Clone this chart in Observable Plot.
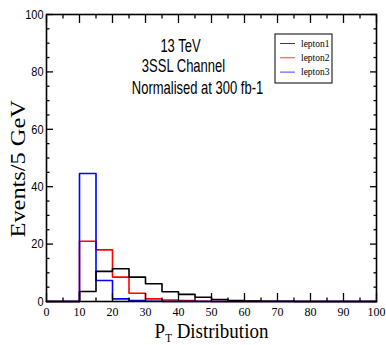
<!DOCTYPE html>
<html>
<head>
<meta charset="utf-8">
<script src="https://cdn.jsdelivr.net/npm/d3@7"></script>
<script src="https://cdn.jsdelivr.net/npm/@observablehq/plot@0.6"></script>
<style>
  html, body { margin: 0; padding: 0; background: #fff; }
</style>
</head>
<body>
<div id="chart"></div>
<script>
// ---- data ----
const binStarts = [0, 5, 10, 15, 20, 25, 30, 35, 40, 45, 50, 55, 60, 65, 70, 75, 80, 85, 90, 95];
const binEnd = 100;
const seriesNames = ["lepton1", "lepton2", "lepton3"];
const lepton1 = [0, 0, 3.5, 10.5, 11.4, 8.5, 6.2, 3.4, 2.5, 1.5, 0.7, 0.3, 0.2, 0.1, 0.1, 0, 0, 0, 0, 0];
const lepton2 = [0, 0, 21.0, 18.0, 8.5, 2.9, 0.9, 0.5, 0.3, 0.1, 0, 0, 0, 0, 0, 0, 0, 0, 0, 0];
const lepton3 = [0, 0, 44.6, 7.3, 0.9, 0.3, 0.1, 0, 0, 0, 0, 0, 0, 0, 0, 0, 0, 0, 0, 0];
const xTickLabels = d3.range(0, 101, 10);
const yTickLabels = d3.range(0, 101, 20);
const annotations = ["13 TeV", "3SSL Channel", "Normalised at 300 fb-1"];
const xLabel = "P_T Distribution";
const yLabel = "Events/5 GeV";

const valuesBySeries = {lepton1, lepton2, lepton3};
const colorOf = {lepton1: "#000000", lepton2: "#ff0000", lepton3: "#0000ff"};

function steps(name) {
  const v = valuesBySeries[name];
  const rows = binStarts.map((x, i) => ({x, y: v[i], series: name}));
  rows.push({x: binEnd, y: v[v.length - 1], series: name});
  return rows;
}

const xMajor = d3.range(0, 101, 10);
const xMinor = d3.range(5, 100, 10);
const yMajor = d3.range(0, 101, 20);
const yMinor = d3.range(0, 101, 5).filter(d => d % 20 !== 0);

const drawOrder = ["lepton2", "lepton3", "lepton1"];

const plot = Plot.plot({
  width: 386,
  height: 345,
  marginLeft: 46,
  marginRight: 10,
  marginTop: 14,
  marginBottom: 44,
  style: {background: "#fff", overflow: "visible"},
  x: {domain: [0, 100]},
  y: {domain: [0, 100]},
  marks: [
    // histogram outlines
    ...drawOrder.map(name => Plot.line(steps(name), {
      x: "x", y: "y", curve: "step-after",
      stroke: colorOf[name], strokeWidth: 1.6
    })),
    // inward ticks, all four sides
    Plot.axisX(xMajor, {anchor: "bottom", tickSize: -8, fill: "none", label: null, strokeWidth: 1.3}),
    Plot.axisX(xMinor, {anchor: "bottom", tickSize: -3.5, fill: "none", label: null, strokeWidth: 1.3}),
    Plot.axisX(xMajor, {anchor: "top", tickSize: -8, fill: "none", label: null, strokeWidth: 1.3}),
    Plot.axisX(xMinor, {anchor: "top", tickSize: -3.5, fill: "none", label: null, strokeWidth: 1.3}),
    Plot.axisY(yMajor, {anchor: "left", tickSize: -7, fill: "none", label: null, strokeWidth: 1.3}),
    Plot.axisY(yMinor, {anchor: "left", tickSize: -3.5, fill: "none", label: null, strokeWidth: 1.3}),
    Plot.axisY(yMajor, {anchor: "right", tickSize: -7, fill: "none", label: null, strokeWidth: 1.3}),
    Plot.axisY(yMinor, {anchor: "right", tickSize: -3.5, fill: "none", label: null, strokeWidth: 1.3}),
    // tick labels
    Plot.axisX(xTickLabels, {anchor: "bottom", tickSize: 0, tickPadding: 6, label: null,
      fontFamily: "Liberation Serif", fontSize: 12, fill: "#000"}),
    Plot.axisY(yTickLabels, {anchor: "left", tickSize: 0, tickPadding: 3, label: null,
      fontFamily: "Liberation Sans", fontSize: 11, fill: "#000"}),
    Plot.frame({stroke: "#000", strokeWidth: 1.6}),
    // annotations
    Plot.text([annotations[0]], {frameAnchor: "top", dx: -31, dy: 26, fontFamily: "Liberation Sans", fontSize: 13, fill: "#000"}),
    Plot.text([annotations[1]], {frameAnchor: "top", dx: -28, dy: 46, fontFamily: "Liberation Sans", fontSize: 13, fill: "#000"}),
    Plot.text([annotations[2]], {frameAnchor: "top", dx: -14, dy: 68, fontFamily: "Liberation Sans", fontSize: 13, fill: "#000"}),
    // axis titles
    Plot.text([xLabel], {frameAnchor: "bottom", dy: 35.5, fontFamily: "Liberation Serif", fontSize: 19, fill: "#000"}),
    Plot.text([yLabel], {frameAnchor: "left", dx: -28.5, dy: 70, rotate: -90, fontFamily: "Liberation Serif", fontSize: 21, fill: "#000"})
  ]
});

document.getElementById("chart").append(plot);

const svg = d3.select(plot);

// stretch helper: scale a text element about its own bbox centre (local coords)
function stretch(node, sx, sy) {
  const b = node.getBBox();
  const cx = b.x + b.width / 2, cy = b.y + b.height / 2;
  const t = node.getAttribute("transform") || "";
  node.setAttribute("transform", `${t} translate(${cx},${cy}) scale(${sx},${sy}) translate(${-cx},${-cy})`);
}

svg.selectAll("text").each(function () {
  const s = this.textContent;
  if (s === xLabel) {
    const el = d3.select(this);
    el.text("");
    el.append("tspan").text("P");
    el.append("tspan").attr("dy", "4").attr("font-size", 11).text("T");
    el.append("tspan").attr("dy", "-4").text(" Distribution");
  }
});

svg.selectAll("text").each(function () {
  const s = this.textContent;
  if (s === "PT Distribution") { stretch(this, 1, 1.12); }
  else if (s === yLabel) { stretch(this, 1.16, 1); }
  else if (annotations.includes(s)) { stretch(this, 1, 1.4); }
  else if (yTickLabels.map(String).includes(s) && this.closest("g") && this.closest("g").getAttribute("text-anchor") === "end") { stretch(this, 1, 1.18); }
});

// legend box (drawn in pixel space, top-right inside the frame)
const leg = svg.append("g").attr("class", "legend").attr("text-anchor", "start");
leg.append("rect").attr("x", 275).attr("y", 34).attr("width", 57).attr("height", 49)
  .attr("fill", "#fff").attr("stroke", "#000").attr("stroke-width", 1);
seriesNames.forEach((name, i) => {
  const y = 43.5 + i * 14.3;
  leg.append("line").attr("x1", 280).attr("x2", 295).attr("y1", y).attr("y2", y)
    .attr("stroke", colorOf[name]).attr("stroke-width", 1).attr("stroke-opacity", 0.75);
  const t = leg.append("text").attr("x", 301).attr("y", y).attr("dy", "0.32em")
    .attr("text-anchor", "start")
    .attr("font-family", "Liberation Serif").attr("font-size", 9.5).attr("fill", "#000").text(name);
  stretch(t.node(), 1, 1.12);
});
</script>
</body>
</html>
